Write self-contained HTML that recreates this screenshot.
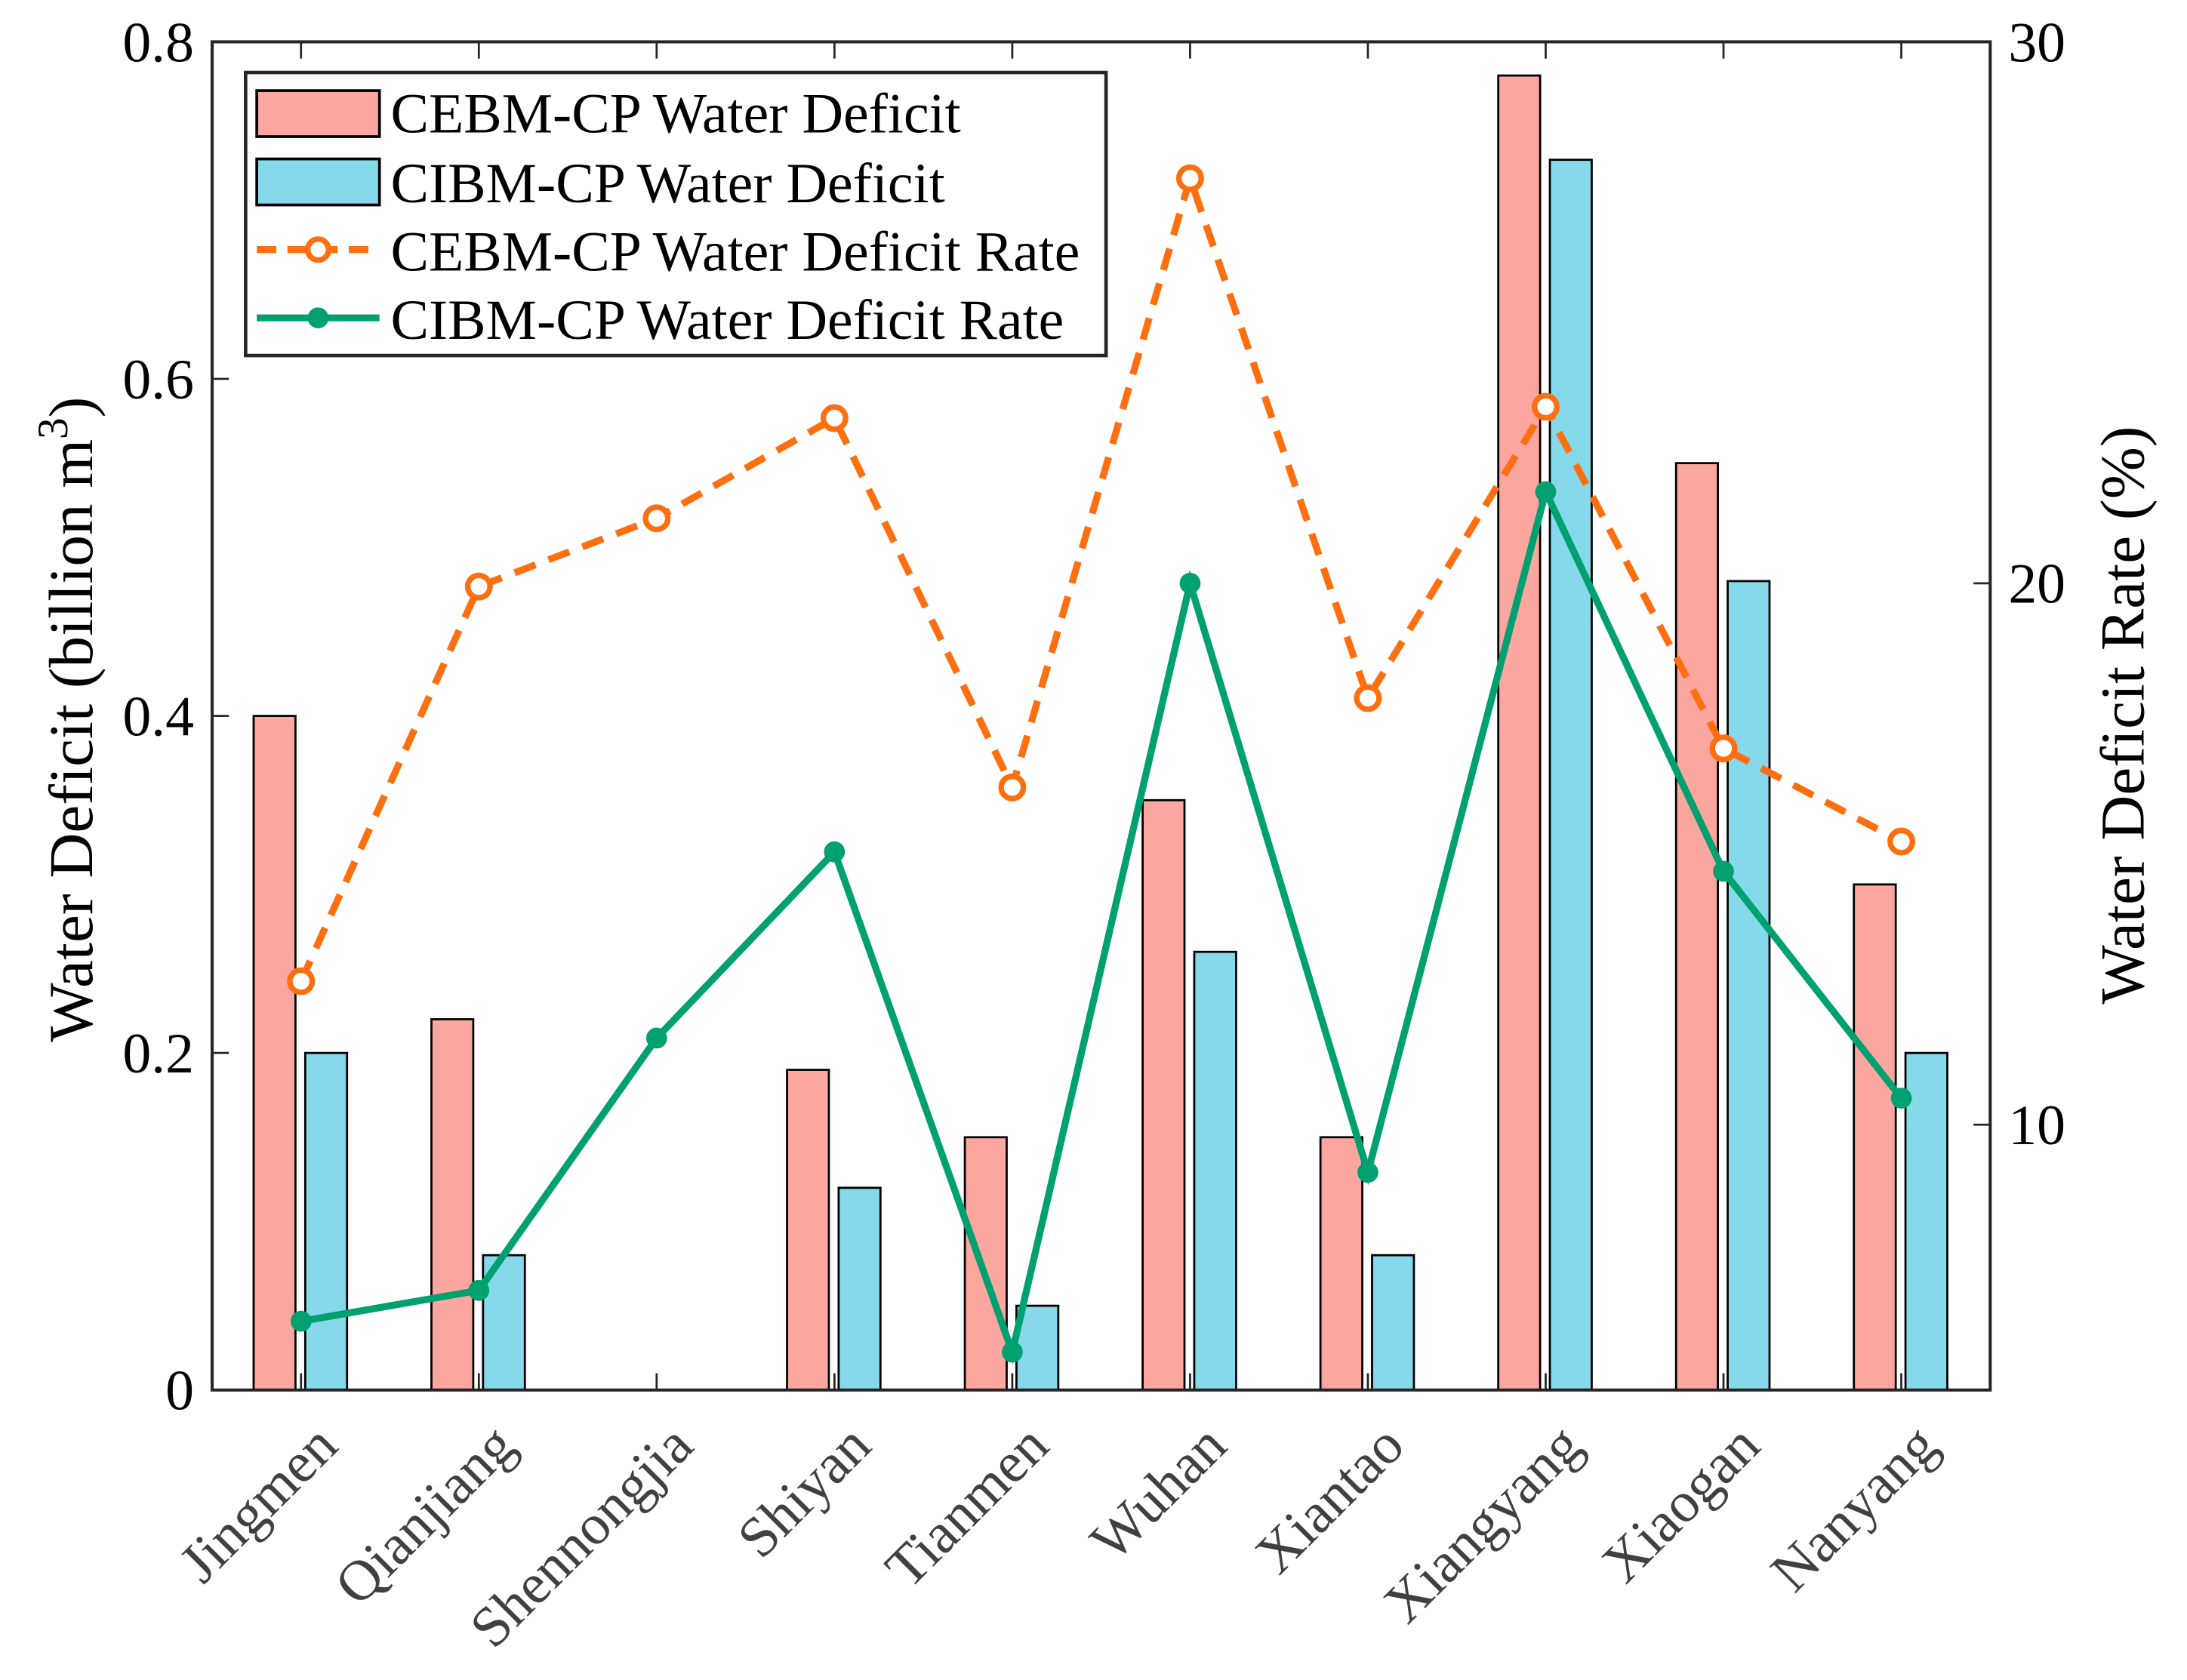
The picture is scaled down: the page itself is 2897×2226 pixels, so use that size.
<!DOCTYPE html>
<html><head><meta charset="utf-8"><style>
html,body{margin:0;padding:0;background:#fff;}
svg{display:block;}
text{font-family:"Liberation Serif",serif;}
</style></head><body>
<svg id="chart" width="2897" height="2226" viewBox="0 0 1568 1205" xmlns="http://www.w3.org/2000/svg">
<g id="bars"></g>
<g id="lines"></g>
<g id="axes"></g>
<g id="legend">
  <rect x="176" y="52" width="617" height="203" fill="#fff" stroke="#262626" stroke-width="2.5"/>
  <g>
    <rect x="184" y="65" width="88" height="33" fill="#fca6a0" stroke="#000" stroke-width="2"/>
    <text x="280" y="95" font-size="41">CEBM-CP Water Deficit</text>
  </g>
  <g>
    <rect x="184" y="114" width="88" height="33" fill="#86d8eb" stroke="#000" stroke-width="2"/>
    <text x="280" y="145" font-size="41">CIBM-CP Water Deficit</text>
  </g>
  <g>
    <line x1="184" y1="179" x2="272" y2="179" stroke="#ff6f10" stroke-width="5" stroke-dasharray="14,8"/>
    <circle cx="228" cy="179" r="7.5" fill="#fff" stroke="#ff6f10" stroke-width="4"/>
    <text x="280" y="194" font-size="41">CEBM-CP Water Deficit Rate</text>
  </g>
  <g>
    <line x1="184" y1="228" x2="272" y2="228" stroke="#00a070" stroke-width="5"/>
    <circle cx="228" cy="228" r="7.5" fill="#00a070"/>
    <text x="280" y="243" font-size="41">CIBM-CP Water Deficit Rate</text>
  </g>
</g>
</svg>
<script>
const categories = ["Jingmen","Qianjiang","Shennongjia","Shiyan","Tianmen","Wuhan","Xiantao","Xiangyang","Xiaogan","Nanyang"];
const cebmDeficit = [0.40,0.22,0,0.19,0.15,0.35,0.15,0.78,0.55,0.30];
const cibmDeficit = [0.20,0.08,0,0.12,0.05,0.26,0.08,0.73,0.48,0.20];
const cebmRate = [12.65,19.94,21.2,23.05,16.23,27.48,17.88,23.26,16.95,15.23];
const cibmRate = [6.37,6.94,11.6,15.04,5.8,20.0,9.12,21.69,14.68,10.49];
const leftTicks = [0,0.2,0.4,0.6,0.8];
const leftTickLabels = ["0","0.2","0.4","0.6","0.8"];
const rightTicks = [10,20,30];
const rightTickLabels = ["10","20","30"];

const NS="http://www.w3.org/2000/svg";
const L=152,R=1427,T=30,B=997;
const yL=v=>B-(v-0)/(0.8-0)*(B-T);
const rMin=5.1,rMax=30;
const yR=v=>B-(v-rMin)/(rMax-rMin)*(B-T);
const xC=i=>L+(i+0.5)*(R-L)/categories.length;
function mk(tag,attrs,parent){const e=document.createElementNS(NS,tag);for(const k in attrs)e.setAttribute(k,attrs[k]);parent.appendChild(e);return e;}
const gB=document.getElementById('bars'),gL=document.getElementById('lines'),gA=document.getElementById('axes');

categories.forEach((c,i)=>{
  const x=xC(i);
  const b1=mk('rect',{x:x-34,y:yL(cebmDeficit[i]),width:30,height:B-yL(cebmDeficit[i]),fill:'#fca6a0',stroke:'#000','stroke-width':1.5},gB);
  
  
  const b2=mk('rect',{x:x+3,y:yL(cibmDeficit[i]),width:30,height:B-yL(cibmDeficit[i]),fill:'#86d8eb',stroke:'#000','stroke-width':1.5},gB);
  
  
});

const p1=mk('polyline',{points:cebmRate.map((v,i)=>xC(i)+','+yR(v)).join(' '),fill:'none',stroke:'#ff6f10','stroke-width':5,'stroke-dasharray':'16,10'},gL);


const p2=mk('polyline',{points:cibmRate.map((v,i)=>xC(i)+','+yR(v)).join(' '),fill:'none',stroke:'#00a070','stroke-width':5},gL);


categories.forEach((c,i)=>{
  const m1=mk('circle',{cx:xC(i),cy:yR(cebmRate[i]),r:8,fill:'#fff',stroke:'#ff6f10','stroke-width':4},gL);
  
  
  const m2=mk('circle',{cx:xC(i),cy:yR(cibmRate[i]),r:7.5,fill:'#00a070'},gL);
  
  
});

const frame=mk('rect',{x:L,y:T,width:R-L,height:B-T,fill:'none',stroke:'#262626','stroke-width':2.2},gA);


categories.forEach((c,i)=>{
  const x=xC(i);
  mk('line',{x1:x,y1:B,x2:x,y2:B-12,stroke:'#262626','stroke-width':1.5},gA);
  mk('line',{x1:x,y1:T,x2:x,y2:T+12,stroke:'#262626','stroke-width':1.5},gA);
  const t=mk('text',{x:x+28,y:B+42,'font-size':41,fill:'#404040','text-anchor':'end',transform:`rotate(-45 ${x+28} ${B+42})`},gA);
  t.textContent=c;
  
  
});
leftTicks.forEach((v,i)=>{
  const y=yL(v);
  mk('line',{x1:L,y1:y,x2:L+12,y2:y,stroke:'#262626','stroke-width':1.5},gA);
  const t=mk('text',{x:139,y:y+14,'font-size':41,'text-anchor':'end'},gA);
  t.textContent=leftTickLabels[i];
  
  
});
rightTicks.forEach((v,i)=>{
  const y=yR(v);
  mk('line',{x1:R,y1:y,x2:R-12,y2:y,stroke:'#262626','stroke-width':1.5},gA);
  const t=mk('text',{x:1440,y:y+14,'font-size':41},gA);
  t.textContent=rightTickLabels[i];
  
  
});
const yt=mk('text',{x:0,y:0,'font-size':45,'text-anchor':'middle',transform:'translate(66 516) rotate(-90)'},gA);
yt.innerHTML='Water Deficit (billion m<tspan dy="-18" font-size="31">3</tspan><tspan dy="18">)</tspan>';


const yt2=mk('text',{x:0,y:0,'font-size':45,'text-anchor':'middle',transform:'translate(1537 513) rotate(-90)'},gA);
yt2.textContent='Water Deficit Rate (%)';


</script>
</body></html>
